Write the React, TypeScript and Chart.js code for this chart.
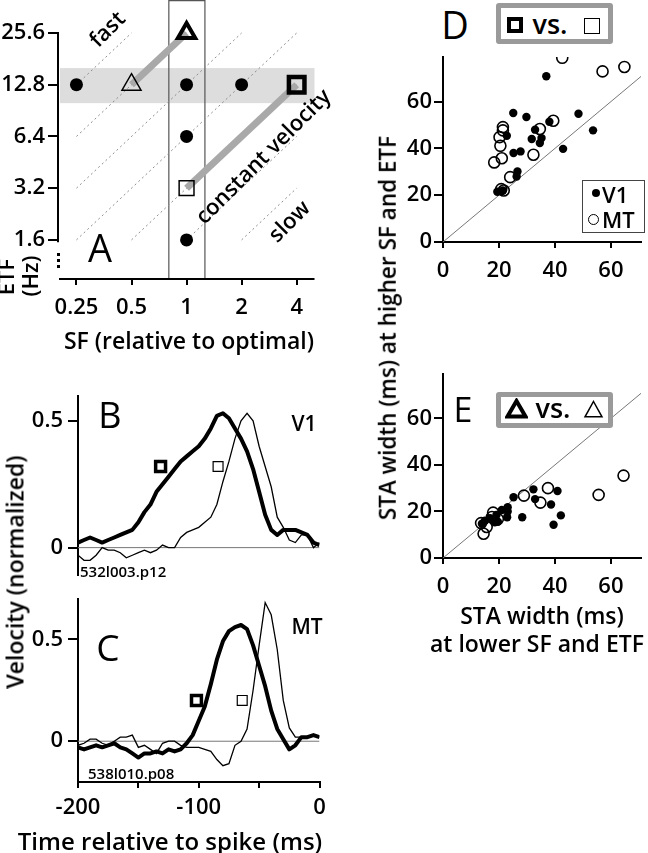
import React, { useEffect, useRef } from 'react';
import { Chart, registerables } from 'chart.js';
Chart.register(...registerables);

const FONT = '"Open Sans", "DejaVu Sans", Arial, sans-serif';
const WEIGHT = 600;
Chart.defaults.font.family = FONT;
Chart.defaults.color = '#000';

// ---------- Panel A ----------
const sfTicks = [0.25, 0.5, 1, 2, 4];
const sfTickLabels = ['0.25', '0.5', '1', '2', '4'];
const etfTicks = [1.6, 3.2, 6.4, 12.8, 25.6];
const etfTickLabels = ['1.6', '3.2', '6.4', '12.8', '25.6'];
const dotSF = [0.25, 1, 2, 1, 1];
const dotETF = [12.8, 12.8, 12.8, 6.4, 1.6];
const openTriangle = [0.5, 12.8];
const boldTriangle = [1, 25.6];
const openSquare = [1, 3.2];
const boldSquare = [4, 12.8];
const isoFromSF = [0.25, 0.25, 0.25, 0.25, 0.5, 1, 2];
const isoFromETF = [12.8, 6.4, 3.2, 1.6, 1.6, 1.6, 1.6];
const isoToSF = [0.5, 1, 2, 4, 4, 4, 4];
const isoToETF = [25.6, 25.6, 25.6, 25.6, 12.8, 6.4, 3.2];
const bandETF = [10, 16];
const boxSF = [0.8, 1.26];
const yAxisETF = [1.55, 25.6];

// ---------- Panels B / C ----------
const timeMs = [-200, -195, -190, -185, -180, -175, -170, -165, -160, -155, -150, -145, -140, -135, -130, -125, -120, -115, -110, -105, -100, -95, -90, -85, -80, -75, -70, -65, -60, -55, -50, -45, -40, -35, -30, -25, -20, -15, -10, -5, 0];
const v1Thick = [0.02, 0.03, 0.04, 0.03, 0.02, 0.03, 0.04, 0.05, 0.06, 0.07, 0.10, 0.14, 0.17, 0.22, 0.25, 0.28, 0.31, 0.34, 0.36, 0.38, 0.40, 0.43, 0.47, 0.52, 0.53, 0.51, 0.47, 0.43, 0.38, 0.31, 0.22, 0.13, 0.07, 0.05, 0.07, 0.07, 0.07, 0.06, 0.05, 0.02, 0.01];
const v1Thin = [-0.03, -0.05, -0.05, -0.03, 0.00, -0.01, -0.01, -0.02, -0.04, -0.03, -0.02, -0.01, -0.02, -0.01, 0.01, 0.00, 0.00, 0.04, 0.06, 0.07, 0.08, 0.10, 0.12, 0.17, 0.26, 0.34, 0.43, 0.50, 0.53, 0.50, 0.40, 0.32, 0.24, 0.12, 0.08, 0.03, 0.02, 0.05, 0.05, 0.00, 0.02];
const mtThick = [-0.03, -0.04, -0.03, -0.02, -0.03, -0.02, -0.01, -0.03, -0.04, -0.06, -0.08, -0.06, -0.06, -0.05, -0.06, -0.04, -0.05, -0.04, -0.01, 0.03, 0.10, 0.17, 0.28, 0.40, 0.49, 0.54, 0.56, 0.57, 0.55, 0.47, 0.37, 0.27, 0.15, 0.06, 0.01, -0.04, -0.02, 0.02, 0.02, 0.03, 0.02];
const mtThin = [-0.02, -0.01, 0.01, 0.01, -0.01, -0.02, 0.00, 0.02, 0.02, 0.03, -0.03, -0.02, -0.04, -0.06, -0.01, 0.00, 0.00, -0.02, -0.03, -0.03, -0.03, -0.04, -0.05, -0.09, -0.12, -0.11, -0.02, 0.00, 0.06, 0.25, 0.47, 0.68, 0.62, 0.45, 0.20, 0.065, 0.02, 0.02, 0.02, 0.03, 0.02];
const v1BoldSquare = [-131.6, 0.32];
const v1OpenSquare = [-84, 0.32];
const mtBoldSquare = [-101.9, 0.20];
const mtOpenSquare = [-64, 0.20];
const velTicks = [0, 0.5];
const velTickLabels = ['0', '0.5'];
const timeTicks = [-200, -150, -100, -50, 0];
const timeTickLabels = ['-200', '', '-100', '', '0'];

// ---------- Panels D / E ----------
const dV1x = [36.9, 25.1, 29.8, 38.0, 48.4, 53.6, 32.9, 31.7, 35.2, 34.6, 22.8, 42.9, 25.2, 27.7, 26.6, 26.3, 19.4, 21.4];
const dV1y = [70.8, 55.1, 53.4, 51.4, 54.8, 47.7, 48.0, 44.0, 44.4, 42.3, 45.4, 39.8, 38.0, 38.7, 30.1, 28.0, 21.5, 22.0];
const dMTx = [42.6, 57.0, 64.8, 39.4, 34.6, 21.4, 21.4, 20.2, 20.5, 21.0, 18.3, 32.3, 24.0, 21.7, 20.8];
const dMTy = [78.7, 72.9, 74.8, 51.8, 48.3, 49.1, 47.7, 44.8, 41.1, 35.8, 34.0, 37.3, 27.7, 22.0, 22.6];
const eV1x = [32.3, 40.9, 32.9, 38.6, 42.1, 39.5, 28.3, 25.2, 23.1, 23.1, 21.0, 22.9, 19.1, 18.5, 16.8, 13.9, 19.6, 15.0];
const eV1y = [29.5, 28.8, 25.3, 23.0, 18.3, 14.3, 17.5, 26.1, 21.8, 20.0, 20.6, 17.5, 18.5, 15.3, 17.1, 14.7, 15.6, 16.0];
const eMTx = [64.5, 55.6, 37.5, 28.9, 34.8, 17.9, 13.6, 14.5, 15.6, 19.6, 17.5];
const eMTy = [35.4, 27.1, 30.0, 26.8, 23.8, 19.5, 15.0, 10.4, 13.3, 16.7, 17.6];
const widthTicks = [0, 20, 40, 60];
const widthTickLabels = ['0', '20', '40', '60'];
const unityLine = [0, 80];

const tickFont = { family: FONT, size: 22, weight: WEIGHT as any };

const fixW = (w: number) => (s: any) => { s.width = w; s.paddingTop = 0; s.paddingBottom = 0; s.paddingLeft = 0; s.paddingRight = 0; };
const fixH = (h: number) => (s: any) => { s.height = h; s.paddingTop = 0; s.paddingBottom = 0; s.paddingLeft = 0; s.paddingRight = 0; };
const fixTicks = (vals: number[]) => (s: any) => { s.ticks = vals.map((v) => ({ value: v })); };
const pts = (xs: number[], ys: number[]) => xs.map((x, i) => ({ x, y: ys[i] }));

const baseOptions = (padding: any) => ({
  responsive: false,
  animation: false as const,
  devicePixelRatio: 1,
  events: [] as any[],
  layout: { padding },
  plugins: { legend: { display: false }, tooltip: { enabled: false } },
});

function makeA(): any {
  const iso = isoFromSF.map((s, i) => ({
    data: [{ x: s, y: isoFromETF[i] }, { x: isoToSF[i], y: isoToETF[i] }],
    showLine: true, borderColor: '#8c8c8c', borderWidth: 1, borderDash: [2, 3], pointRadius: 0, order: 10,
  }));
  const plugin = {
    id: 'panelA',
    beforeDatasetsDraw(chart: any) {
      const { ctx, chartArea: a, scales: { x, y } } = chart;
      ctx.save();
      ctx.fillStyle = '#dddddd';
      const y0 = y.getPixelForValue(bandETF[1]);
      const y1 = y.getPixelForValue(bandETF[0]);
      ctx.fillRect(a.left + 1, y0, a.right - a.left - 1, y1 - y0);
      const x0 = x.getPixelForValue(boxSF[0]);
      const x1 = x.getPixelForValue(boxSF[1]);
      ctx.strokeStyle = '#555';
      ctx.lineWidth = 1.2;
      ctx.beginPath();
      ctx.moveTo(x0, 0); ctx.lineTo(x0, a.bottom);
      ctx.moveTo(x1, 0); ctx.lineTo(x1, a.bottom);
      ctx.moveTo(x0, 0.6); ctx.lineTo(x1, 0.6);
      ctx.stroke();
      ctx.restore();
    },
    afterDraw(chart: any) {
      const { ctx, chartArea: a, scales: { y } } = chart;
      ctx.save();
      ctx.strokeStyle = '#000';
      ctx.lineWidth = 2;
      ctx.beginPath();
      ctx.moveTo(a.left, a.bottom); ctx.lineTo(a.right, a.bottom);
      ctx.moveTo(a.left - 1, y.getPixelForValue(yAxisETF[0])); ctx.lineTo(a.left - 1, y.getPixelForValue(yAxisETF[1]));
      ctx.stroke();
      ctx.restore();
    },
  };
  return {
    type: 'scatter',
    data: {
      datasets: [
        ...iso,
        { data: pts([openTriangle[0], boldTriangle[0]], [openTriangle[1], boldTriangle[1]]), showLine: true, borderColor: '#a9a9a9', borderWidth: 7, pointRadius: 0, order: 5 },
        { data: pts([openSquare[0], boldSquare[0]], [openSquare[1], boldSquare[1]]), showLine: true, borderColor: '#a9a9a9', borderWidth: 7, pointRadius: 0, order: 5 },
        { data: pts(dotSF, dotETF), pointRadius: 6.5, pointBackgroundColor: '#000', pointBorderWidth: 0, order: 1 },
        { data: pts([openTriangle[0]], [openTriangle[1]]), pointStyle: 'triangle', pointRadius: 11, pointBorderWidth: 1.5, pointBorderColor: '#000', pointBackgroundColor: 'rgba(0,0,0,0)', order: 0 },
        { data: pts([boldTriangle[0]], [boldTriangle[1]]), pointStyle: 'triangle', pointRadius: 10, pointBorderWidth: 4, pointBorderColor: '#000', pointBackgroundColor: 'rgba(0,0,0,0)', order: 0 },
        { data: pts([openSquare[0]], [openSquare[1]]), pointStyle: 'rect', pointRadius: 10.5, pointBorderWidth: 1.5, pointBorderColor: '#000', pointBackgroundColor: 'rgba(0,0,0,0)', order: 0 },
        { data: pts([boldSquare[0]], [boldSquare[1]]), pointStyle: 'rect', pointRadius: 11, pointBorderWidth: 4.5, pointBorderColor: '#000', pointBackgroundColor: 'rgba(0,0,0,0)', order: 0 },
      ],
    },
    options: {
      ...baseOptions({ left: 0, right: 10, top: 0, bottom: 0 }),
      scales: {
        x: {
          type: 'logarithmic', min: 0.2007, max: 5.006,
          afterBuildTicks: fixTicks(sfTicks), afterFit: fixH(51),
          ticks: { callback: (_v: any, i: number) => sfTickLabels[i], autoSkip: false, maxRotation: 0, font: tickFont, color: '#000', padding: 10 },
          grid: { display: true, drawOnChartArea: false, drawTicks: true, tickLength: 6, color: '#000', lineWidth: 2 },
          border: { display: false },
        },
        y: {
          type: 'logarithmic', min: 0.9477, max: 32.36,
          afterBuildTicks: fixTicks(etfTicks), afterFit: fixW(59),
          ticks: { callback: (_v: any, i: number) => etfTickLabels[i], autoSkip: false, font: tickFont, color: '#000', padding: 3 },
          grid: { display: true, drawOnChartArea: false, drawTicks: true, tickLength: 11, color: '#000', lineWidth: 2 },
          border: { display: false },
        },
      },
    },
    plugins: [plugin],
  };
}

function makeTrace(thick: number[], thin: number[], boldSq: number[], openSq: number[], yMin: number, yMax: number, showX: boolean, padding: any, xH: number): any {
  return {
    type: 'scatter',
    data: {
      datasets: [
        { data: [{ x: timeMs[0], y: 0 }, { x: timeMs[timeMs.length - 1], y: 0 }], showLine: true, borderColor: '#777', borderWidth: 1, pointRadius: 0, order: 4 },
        { data: pts(timeMs, thin), showLine: true, borderColor: '#000', borderWidth: 1.3, pointRadius: 0, order: 3 },
        { data: pts(timeMs, thick), showLine: true, borderColor: '#000', borderWidth: 4, pointRadius: 0, order: 2, borderJoinStyle: 'round' },
        { data: pts([boldSq[0]], [boldSq[1]]), pointStyle: 'rect', pointRadius: 7, pointBorderWidth: 3.5, pointBorderColor: '#000', pointBackgroundColor: '#fff', order: 0 },
        { data: pts([openSq[0]], [openSq[1]]), pointStyle: 'rect', pointRadius: 7, pointBorderWidth: 1.2, pointBorderColor: '#000', pointBackgroundColor: '#fff', order: 0 },
      ],
    },
    options: {
      ...baseOptions(padding),
      scales: {
        x: showX ? {
          type: 'linear', min: -200, max: 0,
          afterBuildTicks: fixTicks(timeTicks), afterFit: fixH(xH),
          ticks: { callback: (_v: any, i: number) => timeTickLabels[i], autoSkip: false, maxRotation: 0, font: tickFont, color: '#000', padding: 7 },
          grid: { display: true, drawOnChartArea: false, drawTicks: true, tickLength: 6, color: '#000', lineWidth: 2 },
          border: { display: true, color: '#000', width: 2 },
        } : { type: 'linear', min: -200, max: 0, display: false },
        y: {
          type: 'linear', min: yMin, max: yMax,
          afterBuildTicks: fixTicks(velTicks), afterFit: fixW(78),
          ticks: { callback: (_v: any, i: number) => velTickLabels[i], autoSkip: false, font: tickFont, color: '#000', padding: 5 },
          grid: { display: true, drawOnChartArea: false, drawTicks: true, tickLength: 10, color: '#000', lineWidth: 2 },
          border: { display: true, color: '#000', width: 2 },
        },
      },
    },
  };
}

function makeScatter(v1x: number[], v1y: number[], mtx: number[], mty: number[]): any {
  return {
    type: 'scatter',
    data: {
      datasets: [
        { data: pts(unityLine, unityLine), showLine: true, borderColor: '#777', borderWidth: 1, pointRadius: 0, order: 5 },
        { data: pts(v1x, v1y), pointRadius: 4.2, pointBackgroundColor: '#000', pointBorderWidth: 0, order: 1 },
        { data: pts(mtx, mty), pointRadius: 5.5, pointBorderWidth: 1.6, pointBorderColor: '#000', pointBackgroundColor: 'rgba(0,0,0,0)', order: 0 },
      ],
    },
    options: {
      ...baseOptions({ left: 0, right: 0, top: 7, bottom: 0 }),
      scales: {
        x: {
          type: 'linear', min: 0, max: 70.7,
          afterBuildTicks: fixTicks(widthTicks), afterFit: fixH(48),
          ticks: { callback: (_v: any, i: number) => widthTickLabels[i], autoSkip: false, maxRotation: 0, font: tickFont, color: '#000', padding: 10 },
          grid: { display: true, drawOnChartArea: false, drawTicks: true, tickLength: 6, color: '#000', lineWidth: 2 },
          border: { display: true, color: '#000', width: 2 },
        },
        y: {
          type: 'linear', min: 0, max: 79,
          afterBuildTicks: fixTicks(widthTicks), afterFit: fixW(43),
          ticks: { callback: (_v: any, i: number) => widthTickLabels[i], autoSkip: false, font: tickFont, color: '#000', padding: 2 },
          grid: { display: true, drawOnChartArea: false, drawTicks: true, tickLength: 9, color: '#000', lineWidth: 2 },
          border: { display: true, color: '#000', width: 2 },
        },
      },
    },
  };
}

function ChartCanvas({ left, top, width, height, make }: any) {
  const ref = useRef<HTMLCanvasElement>(null);
  useEffect(() => {
    const chart = new Chart(ref.current as HTMLCanvasElement, make());
    return () => chart.destroy();
  }, []);
  return <canvas ref={ref} width={width} height={height} style={{ position: 'absolute', left, top, width, height }} />;
}

function Label({ x, y, size, rot = 0, anchorLeft = false, weight = WEIGHT, children }: any) {
  return (
    <div style={{
      position: 'absolute', left: x, top: y, fontSize: size, lineHeight: 1, whiteSpace: 'nowrap', fontWeight: weight,
      transform: `translate(${anchorLeft ? '0' : '-50%'}, -50%) rotate(${rot}deg)`,
    }}>{children}</div>
  );
}

const Box = ({ l, t, w, h, style }: any) => (
  <div style={{ position: 'absolute', left: l, top: t, width: w, height: h, boxSizing: 'border-box', ...style }} />
);

export default function App() {
  return (
    <div style={{ position: 'absolute', left: 0, top: 0, width: 648, height: 853, background: '#fff', overflow: 'hidden', fontFamily: FONT, color: '#000' }}>
      <ChartCanvas left={0} top={0} width={330} height={330} make={makeA} />
      <ChartCanvas left={0} top={385} width={330} height={200} make={() => makeTrace(v1Thick, v1Thin, v1BoldSquare, v1OpenSquare, -0.106, 0.60, false, { left: 0, right: 10, top: 7, bottom: 7 }, 0)} />
      <ChartCanvas left={0} top={588} width={330} height={242} make={() => makeTrace(mtThick, mtThin, mtBoldSquare, mtOpenSquare, -0.20, 0.70, true, { left: 0, right: 10, top: 7, bottom: 0 }, 48)} />
      <ChartCanvas left={400} top={50} width={248} height={240} make={() => makeScatter(dV1x, dV1y, dMTx, dMTy)} />
      <ChartCanvas left={400} top={367} width={248} height={239} make={() => makeScatter(eV1x, eV1y, eMTx, eMTy)} />

      {/* Panel A annotations */}
      <Label x={106} y={28} size={22} rot={-45}>fast</Label>
      <Label x={262} y={155} size={22} rot={-45}>constant velocity</Label>
      <Label x={288} y={220} size={22} rot={-45}>slow</Label>
      <Label x={100} y={247} size={38} weight={400}>A</Label>
      <Label x={5} y={277} size={22} rot={-90}>ETF</Label>
      <Label x={29} y={276} size={22} rot={-90}>(Hz)</Label>
      <Box l={57} t={253} w={3} h={3} style={{ background: '#000' }} />
      <Box l={57} t={259} w={3} h={3} style={{ background: '#000' }} />
      <Box l={57} t={265} w={3} h={3} style={{ background: '#000' }} />
      <Label x={189} y={340} size={23}>SF (relative to optimal)</Label>

      {/* Panel B / C */}
      <Label x={110} y={415} size={36} weight={400}>B</Label>
      <Label x={304} y={423} size={21}>V1</Label>
      <Label x={80} y={571} size={15} anchorLeft>532l003.p12</Label>
      <Label x={108} y={646} size={37} weight={400}>C</Label>
      <Label x={307} y={626} size={21}>MT</Label>
      <Label x={88} y={773} size={15} anchorLeft>538l010.p08</Label>
      <Label x={15} y={572} size={23} rot={-90}>Velocity (normalized)</Label>
      <Label x={170} y={841} size={24}>Time relative to spike (ms)</Label>

      {/* Panel D header */}
      <Label x={455} y={24} size={38} weight={400}>D</Label>
      <Box l={496} t={3} w={117} h={41} style={{ border: '5px solid #9a9a9a', borderRadius: 3, background: '#fff' }} />
      <Box l={507} t={17} w={16} h={16} style={{ border: '4.5px solid #000', background: '#fff' }} />
      <Label x={550} y={23} size={27}>vs.</Label>
      <Box l={584} t={18} w={16} h={16} style={{ border: '1.5px solid #000', background: '#fff' }} />

      {/* Panel D legend */}
      <Box l={582} t={180} w={63} h={53} style={{ border: '1px solid #444', background: '#fff' }} />
      <Box l={592} t={189} w={8} h={8} style={{ background: '#000', borderRadius: '50%' }} />
      <Label x={602} y={194} size={22} anchorLeft>V1</Label>
      <Box l={588} t={214} w={11} h={11} style={{ border: '1.5px solid #000', borderRadius: '50%' }} />
      <Label x={602} y={219} size={22} anchorLeft>MT</Label>

      {/* Panel E header */}
      <Label x={463} y={409} size={34} weight={400}>E</Label>
      <Box l={496} t={392} w={117} h={36} style={{ border: '5px solid #9a9a9a', borderRadius: 3, background: '#fff' }} />
      <svg style={{ position: 'absolute', left: 505, top: 398 }} width={23} height={21}>
        <polygon points="11.5,3 20.5,18.5 2.5,18.5" fill="#fff" stroke="#000" strokeWidth={4} strokeLinejoin="miter" />
      </svg>
      <Label x={553} y={407} size={27}>vs.</Label>
      <svg style={{ position: 'absolute', left: 583, top: 400 }} width={21} height={19}>
        <polygon points="10.5,1.5 19,16.8 2,16.8" fill="#fff" stroke="#000" strokeWidth={1.5} />
      </svg>

      {/* Shared titles D/E */}
      <Label x={388} y={328} size={22.5} rot={-90}>STA width (ms) at higher SF and ETF</Label>
      <Label x={542} y={615} size={23}>STA width (ms)</Label>
      <Label x={537} y={643} size={23}>at lower SF and ETF</Label>
    </div>
  );
}
